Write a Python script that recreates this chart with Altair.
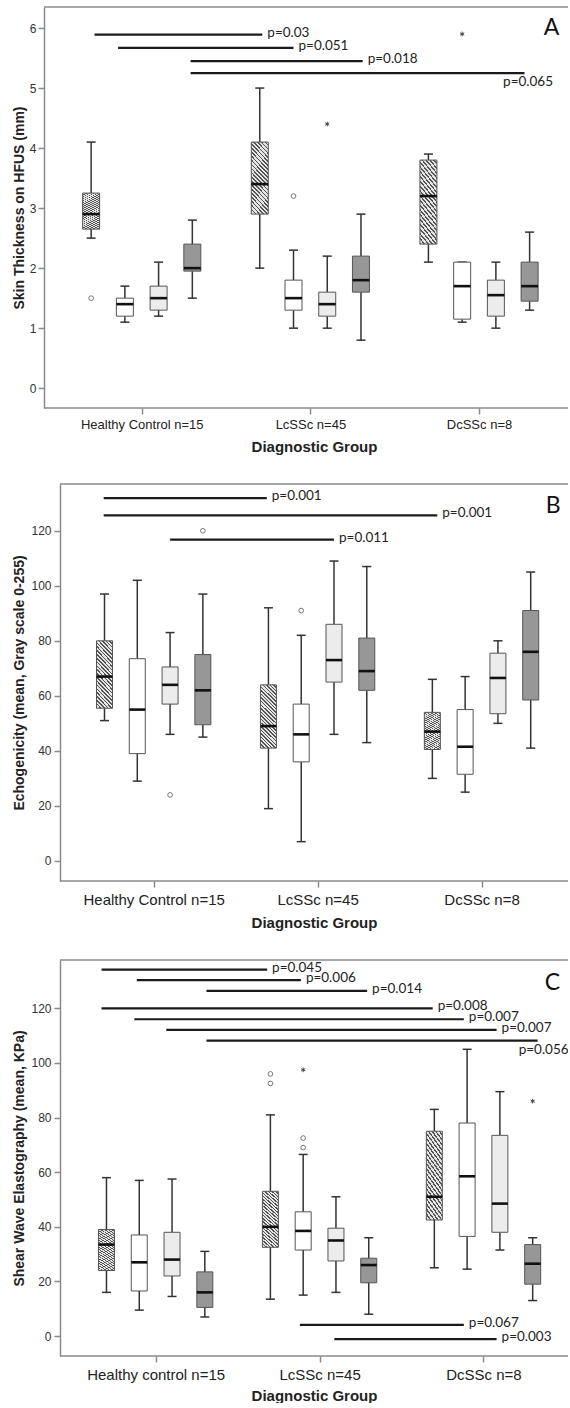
import altair as alt
import pandas as pd

# ---------------- data ----------------
SERIES = ["hatched", "white", "dotted", "dark"]
OFFSETS = [-0.3, -0.1, 0.1, 0.3]

GROUPS_AB = ["Healthy Control n=15", "LcSSc n=45", "DcSSc n=8"]
GROUPS_C = ["Healthy control n=15", "LcSSc n=45", "DcSSc n=8"]

# Panel A – Skin thickness (mm); order: group-major, series hatched/white/dotted/dark
A_low = [2.5, 1.1, 1.2, 1.5, 2.0, 1.0, 1.0, 0.8, 2.1, 1.1, 1.0, 1.3]
A_q1 = [2.65, 1.2, 1.3, 1.95, 2.9, 1.3, 1.2, 1.6, 2.4, 1.15, 1.2, 1.45]
A_med = [2.9, 1.4, 1.5, 2.0, 3.4, 1.5, 1.4, 1.8, 3.2, 1.7, 1.55, 1.7]
A_q3 = [3.25, 1.5, 1.7, 2.4, 4.1, 1.8, 1.6, 2.2, 3.8, 2.1, 1.8, 2.1]
A_high = [4.1, 1.7, 2.1, 2.8, 5.0, 2.3, 2.2, 2.9, 3.9, 2.1, 2.1, 2.6]
A_out_group = [0, 1, 1, 2]
A_out_series = [0, 1, 2, 1]
A_out_value = [1.5, 3.2, 4.4, 5.9]
A_out_kind = ["circle", "circle", "star", "star"]
A_sig_x1 = [-0.28, -0.14, 0.29, 0.29]
A_sig_x2 = [0.715, 0.90, 1.31, 2.27]
A_sig_y = [5.89, 5.67, 5.45, 5.25]
A_sig_label = ["p=0.03", "p=0.051", "p=0.018", "p=0.065"]
A_sig_tx = [0.715, 0.90, 1.31, 2.113]
A_sig_ty = [5.89, 5.67, 5.45, 5.07]

# Panel B – Echogenicity
B_low = [51, 29, 46, 45, 19, 7, 46, 43, 30, 25, 50, 41]
B_q1 = [55.5, 39, 57, 49.5, 41, 36, 65, 62, 40.5, 31.5, 53.5, 58.5]
B_med = [67, 55, 64, 62, 49, 46, 73, 69, 47, 41.5, 66.5, 76]
B_q3 = [80, 73.5, 70.5, 75, 64, 57, 86, 81, 54, 55, 75.5, 91]
B_high = [97, 102, 83, 97, 92, 82, 109, 107, 66, 67, 80, 105]
B_out_group = [0, 0, 1]
B_out_series = [3, 2, 1]
B_out_value = [120, 24, 91]
B_out_kind = ["circle", "circle", "circle"]
B_sig_x1 = [-0.305, -0.305, 0.10]
B_sig_x2 = [0.69, 1.73, 1.10]
B_sig_y = [131.9, 125.6, 116.8]
B_sig_label = ["p=0.001", "p=0.001", "p=0.011"]
B_sig_tx = [0.69, 1.73, 1.10]
B_sig_ty = [131.9, 125.6, 116.8]

# Panel C – Shear wave elastography
C_low = [16, 9.5, 14.5, 7, 13.5, 15, 16, 8, 25, 24.5, 31.5, 13]
C_q1 = [24, 16.5, 22, 10.5, 32.5, 31.5, 27.5, 19.5, 42.5, 36.5, 38, 19]
C_med = [33.5, 27, 28, 16, 40, 38.5, 35, 26, 51, 58.5, 48.5, 26.5]
C_q3 = [39, 37, 38, 23.5, 53, 45.5, 39.5, 28.5, 75, 78, 73.5, 33.5]
C_high = [58, 57, 57.5, 31, 81, 66.5, 51, 36, 83, 105, 89.5, 36]
C_out_group = [1, 1, 1, 1, 1, 2]
C_out_series = [0, 0, 1, 1, 1, 3]
C_out_value = [96, 92.5, 72.5, 69, 97.5, 86]
C_out_kind = ["circle", "circle", "circle", "circle", "star", "star"]
C_sig_x1 = [-0.33, -0.115, 0.31, -0.33, -0.13, 0.065, 0.31, 0.88, 1.09]
C_sig_x2 = [0.68, 0.886, 1.29, 1.69, 1.88, 2.08, 2.33, 1.88, 2.08]
C_sig_y = [134.2, 130.3, 126.4, 120.0, 116.0, 112.1, 108.2, 4.1, -1.1]
C_sig_label = ["p=0.045", "p=0.006", "p=0.014", "p=0.008", "p=0.007",
               "p=0.007", "p=0.056", "p=0.067", "p=0.003"]
C_sig_tx = [0.68, 0.886, 1.29, 1.69, 1.88, 2.08, 2.184, 1.88, 2.08]
C_sig_ty = [134.2, 130.3, 126.4, 120.0, 116.0, 112.1, 104.0, 4.1, -1.1]

# ---------------- styles ----------------
FRAME = "#8a8a8a"
TXT = "#222222"
FILLS = {"white": "#ffffff", "dotted": "#ececec", "dark": "#979797"}
STAR = "M0,-1L0,1M-0.866,-0.5L0.866,0.5M-0.866,0.5L0.866,-0.5"


def hatch(n=22, frac=0.42, dark="#555555", light="#e4e4e4"):
    stops = []
    for i in range(n):
        a, b, c = i / n, (i + frac) / n, (i + 1) / n
        stops += [{"offset": a, "color": dark}, {"offset": b, "color": dark},
                  {"offset": b, "color": light}, {"offset": c, "color": light}]
    return {"gradient": "linear", "x1": 0, "y1": 1, "x2": 0.294, "y2": -0.176,
            "stops": stops}


def panel(low, q1, med, q3, high, og, os_, ov, ok, sx1, sx2, sy, slab, stx, sty,
          letter, letter_xy, groups, ytitle, ydom, yvals, xdom, width, height,
          box_w, xlab_size, lab_pad, ylab_pad, ytitle_pad, yoff, xtitle_pad):
    n = len(low)
    g = [i // 4 for i in range(n)]
    s = [i % 4 for i in range(n)]
    boxes = pd.DataFrame({
        "group": g, "series": [SERIES[k] for k in s],
        "pos": [g[i] + OFFSETS[s[i]] for i in range(n)],
        "low": low, "q1": q1, "med": med, "q3": q3, "high": high,
    })
    outs = pd.DataFrame({
        "pos": [og[i] + OFFSETS[os_[i]] for i in range(len(og))],
        "value": ov, "kind": ok,
    })
    sig = pd.DataFrame({"x1": sx1, "x2": sx2, "y": sy, "label": slab,
                        "tx": stx, "ty": sty})
    let = pd.DataFrame({"x": [letter_xy[0]], "y": [letter_xy[1]], "t": [letter]})

    xs = alt.Scale(domain=xdom, nice=False, zero=False)
    ys = alt.Scale(domain=ydom, nice=False, zero=False)
    X = alt.X("pos:Q", scale=xs)

    def Y(f):
        return alt.Y(f, scale=ys)

    b = alt.Chart(boxes)
    expr = "[" + ",".join("'" + t + "'" for t in groups) + "][datum.value]"
    axes = b.mark_point(opacity=0).encode(
        x=alt.X("pos:Q", scale=xs, axis=alt.Axis(
            values=[0, 1, 2], labelExpr=expr, title="Diagnostic Group",
            titleFont="Liberation Sans", titleFontSize=15, titleFontWeight="bold",
            titleColor=TXT, titlePadding=xtitle_pad,
            labelFont="Liberation Sans", labelFontSize=xlab_size, labelColor=TXT,
            labelPadding=lab_pad, labelFlush=False, labelOverlap=False,
            tickSize=6, tickColor=FRAME, tickWidth=1.5, domain=False)),
        y=alt.Y("med:Q", scale=ys, axis=alt.Axis(
            values=yvals, format="d", title=ytitle, offset=yoff,
            titleFont="Liberation Sans", titleFontSize=14, titleFontWeight="bold",
            titleColor=TXT, titlePadding=ytitle_pad,
            labelFont="Liberation Sans", labelFontSize=12, labelColor="#333",
            labelPadding=ylab_pad, labelFlush=False,
            tickSize=6, tickColor=FRAME, tickWidth=1.5,
            domainColor=FRAME, domainWidth=1.5)))
    # frame lines (top and bottom), extended to the offset y-axis line
    top_frame = alt.Chart(let).mark_rule(color=FRAME, strokeWidth=1.5).encode(
        x=alt.value(-yoff), x2=alt.value(width), y=alt.value(0))
    bottom_frame = alt.Chart(let).mark_rule(color=FRAME, strokeWidth=1.5).encode(
        x=alt.value(-yoff), x2=alt.value(width), y=alt.value(height))

    whisk_lo = b.mark_rule(color="#333", strokeWidth=1.5).encode(x=X, y=Y("low:Q"), y2="q1:Q")
    whisk_hi = b.mark_rule(color="#333", strokeWidth=1.5).encode(x=X, y=Y("q3:Q"), y2="high:Q")
    cap_lo = b.mark_tick(orient="horizontal", size=9, thickness=1.5, color="#333",
                         opacity=1).encode(x=X, y=Y("low:Q"))
    cap_hi = b.mark_tick(orient="horizontal", size=9, thickness=1.5, color="#333",
                         opacity=1).encode(x=X, y=Y("high:Q"))
    box_plain = b.transform_filter("datum.series != 'hatched'").mark_bar(
        size=box_w, stroke="#555", strokeWidth=1).encode(
        x=X, y=Y("q1:Q"), y2="q3:Q",
        color=alt.Color("series:N", legend=None,
                        scale=alt.Scale(domain=list(FILLS.keys()),
                                        range=list(FILLS.values()))))
    box_hatch = b.transform_filter("datum.series == 'hatched'").mark_bar(
        size=box_w, stroke="#555", strokeWidth=1, fill=hatch()).encode(
        x=X, y=Y("q1:Q"), y2="q3:Q")
    median = b.mark_tick(orient="horizontal", size=box_w, thickness=2.6,
                         color="#111", opacity=1).encode(x=X, y=Y("med:Q"))

    o = alt.Chart(outs)
    circ = o.transform_filter("datum.kind == 'circle'").mark_point(
        shape="circle", filled=False, size=22, stroke="#777", strokeWidth=1,
        opacity=1).encode(x=X, y=Y("value:Q"))
    star = o.transform_filter("datum.kind == 'star'").mark_point(
        shape=STAR, filled=False, size=22, stroke="#444", strokeWidth=1,
        opacity=1).encode(x=X, y=Y("value:Q"))

    sg = alt.Chart(sig)
    sig_rule = sg.mark_rule(color="#1a1a1a", strokeWidth=2.2).encode(
        x=alt.X("x1:Q", scale=xs), x2="x2:Q", y=Y("y:Q"))
    sig_text = sg.mark_text(align="left", baseline="middle", dx=5, dy=-2,
                            font="Lato", fontSize=13.5, color=TXT, clip=True).encode(
        x=alt.X("tx:Q", scale=xs), y=Y("ty:Q"), text="label:N")

    letter_mark = alt.Chart(let).mark_text(font="Lato", fontSize=23, color="#111",
                                           align="center", baseline="middle").encode(
        x=alt.X("x:Q", scale=xs), y=Y("y:Q"), text="t:N")

    return alt.layer(axes, top_frame, bottom_frame, whisk_lo, whisk_hi, cap_lo,
                     cap_hi, box_hatch, box_plain, median, circ, star, sig_rule,
                     sig_text, letter_mark).properties(width=width, height=height)


pA = panel(A_low, A_q1, A_med, A_q3, A_high,
           A_out_group, A_out_series, A_out_value, A_out_kind,
           A_sig_x1, A_sig_x2, A_sig_y, A_sig_label, A_sig_tx, A_sig_ty,
           "A", (2.43, 6.0), GROUPS_AB, "Skin Thickness on HFUS (mm)",
           [-0.33, 6.35], [0, 1, 2, 3, 4, 5, 6], [-0.455, 2.498], 508, 401,
           17, 13, 4, 2, 3, 16, 8)

pB = panel(B_low, B_q1, B_med, B_q3, B_high,
           B_out_group, B_out_series, B_out_value, B_out_kind,
           B_sig_x1, B_sig_x2, B_sig_y, B_sig_label, B_sig_tx, B_sig_ty,
           "B", (2.437, 129), GROUPS_AB, "Echogenicity (mean, Gray scale 0-255)",
           [-7.3, 137], [0, 20, 40, 60, 80, 100, 120], [-0.541, 2.497], 508, 397,
           16, 15, 5, 3, 4, 0, 8)

pC = panel(C_low, C_q1, C_med, C_q3, C_high,
           C_out_group, C_out_series, C_out_value, C_out_kind,
           C_sig_x1, C_sig_x2, C_sig_y, C_sig_label, C_sig_tx, C_sig_ty,
           "C", (2.42, 129.3), GROUPS_C, "Shear Wave Elastography (mean, KPa)",
           [-7.3, 137.7], [0, 20, 40, 60, 80, 100, 120], [-0.553, 2.485], 508, 396,
           16, 15, 5, 3, 4, 0, 6)

chart = alt.concat(pA, pB, pC, columns=1, spacing=29).properties(
    align="none", bounds="full",
    padding={"left": 12, "top": 6, "right": 0, "bottom": 0},
).configure_view(stroke=None).configure_axis(grid=False)

chart.save("out.html", embed_options={"renderer": "svg", "actions": False})
